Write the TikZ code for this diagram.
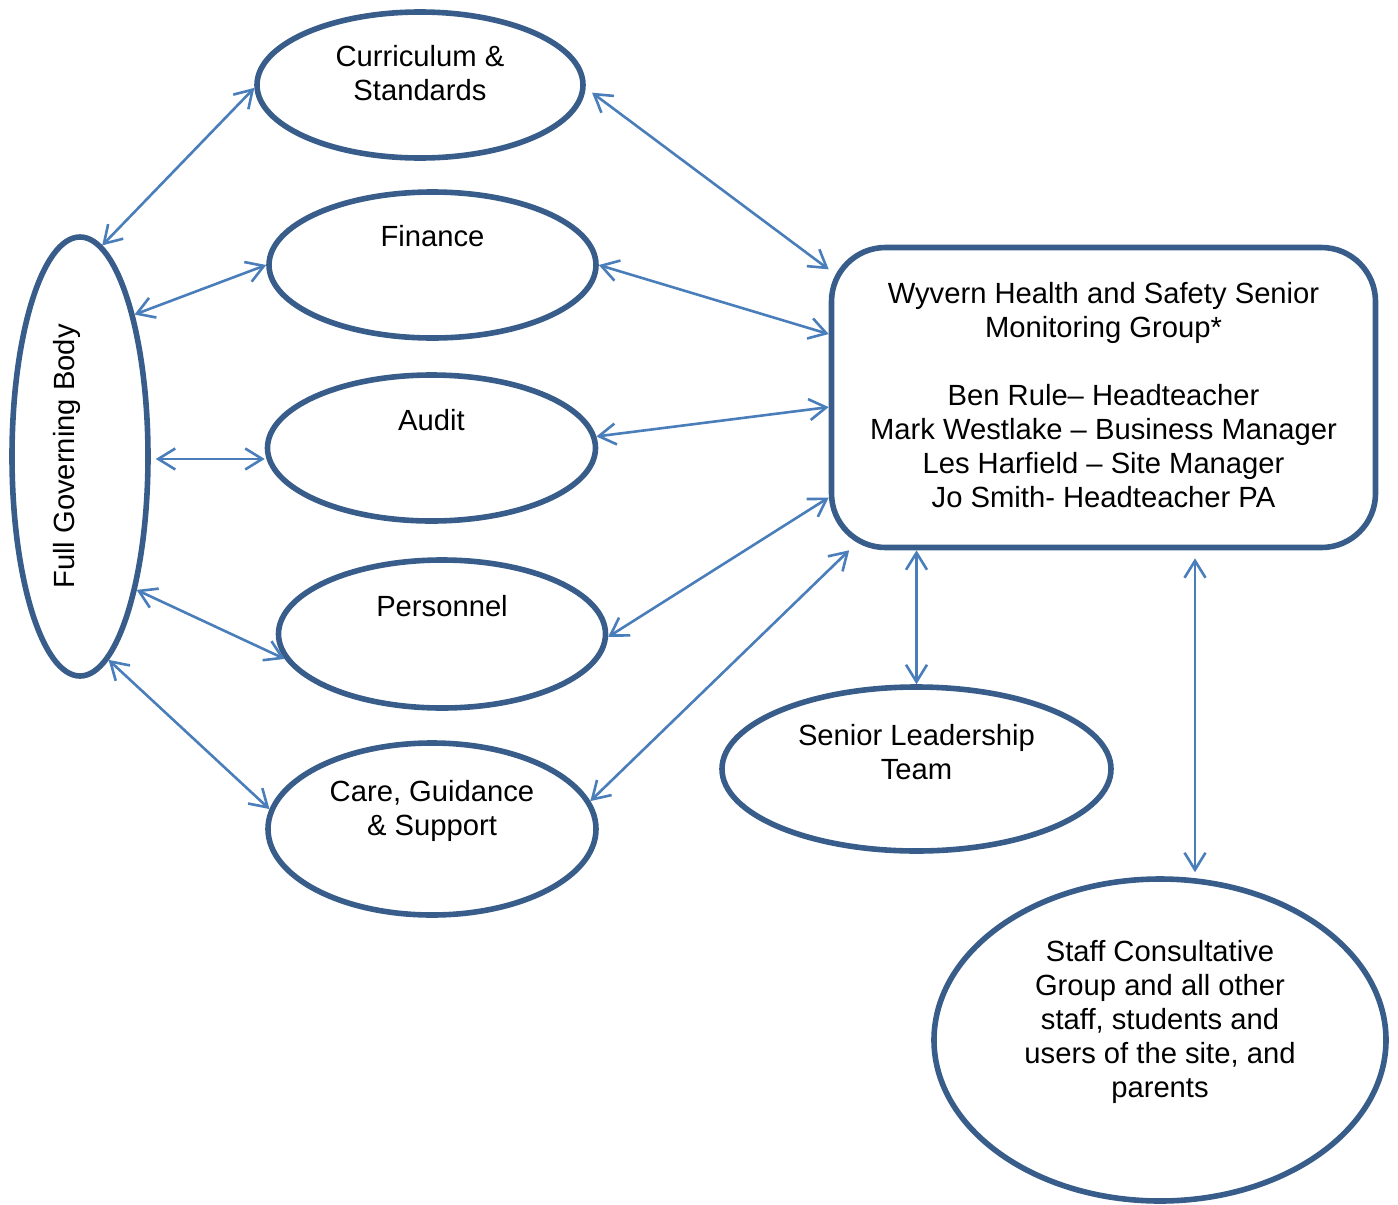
\documentclass[tikz,border=0pt]{standalone}
\usepackage{fontspec}
\setmainfont{Liberation Sans}
\usetikzlibrary{arrows.meta,positioning,shapes.geometric}
\definecolor{frameblue}{RGB}{56,93,138}
\definecolor{linkblue}{RGB}{74,126,187}
\tikzset{
  grp/.style={ellipse, draw=frameblue, line width=2.8pt, inner sep=0pt},
  txt/.style={align=center, inner sep=0pt},
  link/.style={linkblue, line width=1.3pt,
    {Straight Barb[length=8.5pt,width=10.5pt]}-{Straight Barb[length=8.5pt,width=10.5pt]}},
}

\begin{document}
\begin{tikzpicture}[x=0.5pt,y=-0.5pt,font=\fontsize{14.6}{17}\selectfont]
  \useasboundingbox (0,0) rectangle (1398,1205);

  % governing body and committees
  \node[grp, minimum width=68pt, minimum height=219.5pt] (fgb) at (80,456.5) {};
  \node[txt, rotate=90] (fgbtxt) at ([xshift=-6.5pt]fgb.center) {Full Governing Body};

  \node[grp, minimum width=163pt, minimum height=73pt] (cur) at (420,85) {};
  \node[txt, below=18pt of cur.north] (curtxt) {Curriculum \&\\Standards};

  \node[grp, minimum width=163.5pt, minimum height=73pt] (fin) at (432.5,265) {};
  \node[txt, below=18pt of fin.north] (fintxt) {Finance};

  \node[grp, minimum width=164pt, minimum height=73pt] (aud) at (431.5,448) {};
  \node[txt, below=18.5pt of aud.north] (audtxt) {Audit};

  \node[grp, minimum width=163.5pt, minimum height=74pt] (per) at (442,634) {};
  \node[txt, below=19pt of per.north] (pertxt) {Personnel};

  \node[grp, minimum width=164pt, minimum height=86pt] (care) at (432,829) {};
  \node[txt, below=20pt of care.north] (caretxt) {Care, Guidance\\\& Support};

  % monitoring group
  \node[draw=frameblue, line width=2.8pt, rounded corners=27pt, align=center,
        minimum width=272pt, minimum height=150pt] (wyv) at (1103.5,397.5)
    {Wyvern Health and Safety Senior\\Monitoring Group*\\[17pt]
     Ben Rule– Headteacher\\Mark Westlake – Business Manager\\
     Les Harfield – Site Manager\\Jo Smith- Headteacher PA\\[-14pt]};

  \node[grp, minimum width=194.5pt, minimum height=82pt] (slt) at (916.5,769) {};
  \node[txt, below=20pt of slt.north] (slttxt) {Senior Leadership\\Team};

  \node[grp, minimum width=226pt, minimum height=161pt] (staff) at (1160,1040) {};
  \node[txt, below=32pt of staff.north] (stafftxt)
    {Staff Consultative\\Group and all other\\staff, students and\\users of the site, and\\parents};

  % links
  \draw[link] (fgb.84.4) -- (cur.181.7);
  \draw[link] (fgb.69) -- (fin.180);
  \draw[link, shorten <=2.5pt] (fgb.-2) -- (fgb.-2 -| aud.west);
  \draw[link] (fgb.-67.9) -- (per.189.9);
  \draw[link] (fgb.-82) -- (care.173.1);

  \draw[link, shorten <=4pt] (cur.-1.7) -- (wyv.155.8);
  \draw[link] (fin.0) -- (wyv.167.7);
  \draw[link] (aud.4.9) -- (wyv.182.8);
  \draw[link] (per.-1) -- (wyv.200.6);
  \draw[link] (care.10.1) -- (wyv.211.3);

  \draw[link] (slt.north |- wyv.south) -- (slt.north);
  \coordinate (stafftop) at ([xshift=17.5pt,yshift=2pt]staff.north);
  \draw[link] ([yshift=-4pt]wyv.south -| stafftop) -- (stafftop);
\end{tikzpicture}
\end{document}
